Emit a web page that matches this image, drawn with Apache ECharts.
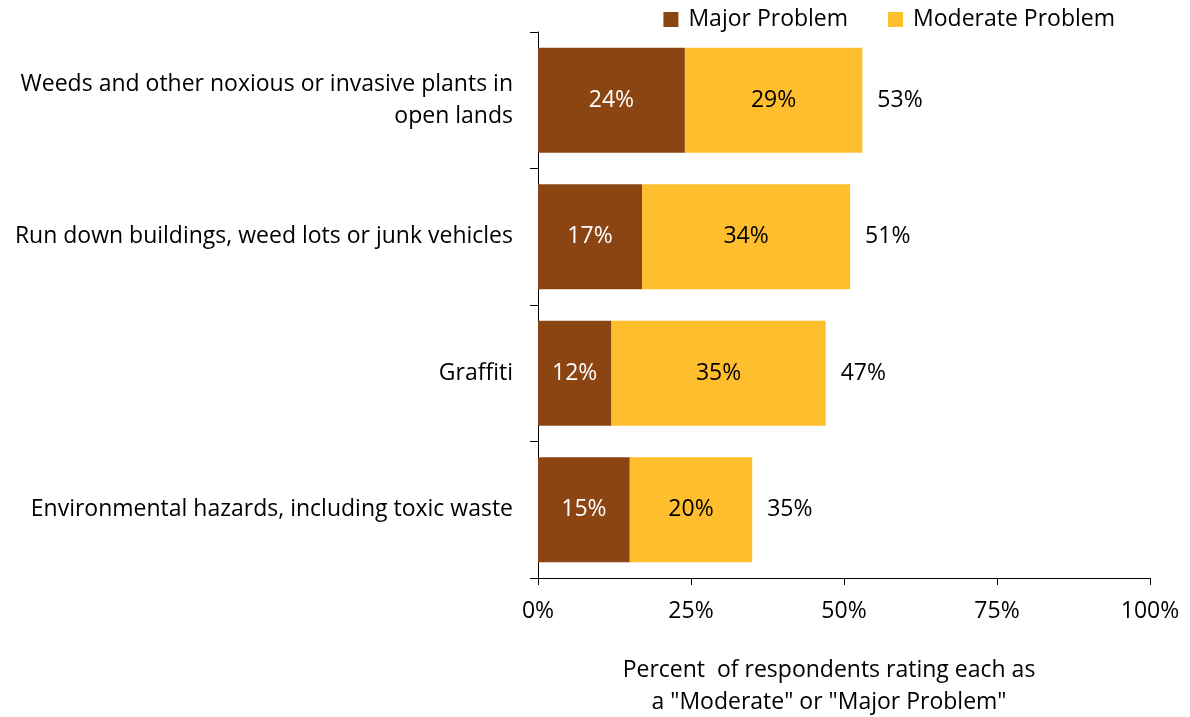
<!DOCTYPE html>
<html><head><meta charset="utf-8">
<script src="https://cdn.jsdelivr.net/npm/echarts@6/dist/echarts.min.js"></script>
<style>html,body{margin:0;padding:0;background:#fff}#c{width:1190px;height:717px}</style>
</head><body><div id="c"></div>
<script>
const categories = [
  "Weeds and other noxious or invasive plants in\nopen lands",
  "Run down buildings, weed lots or junk vehicles",
  "Graffiti",
  "Environmental hazards, including toxic waste"
];
const majorValues = [24, 17, 12, 15];
const moderateValues = [29, 34, 35, 20];
const totalValues = [53, 51, 47, 35];
const xTicks = [0, 25, 50, 75, 100];

const FONT = 'Open Sans';
const FS = 23;
const chart = echarts.init(document.getElementById('c'));
chart.setOption({
  animation: false,
  textStyle: {fontFamily: FONT},
  title: {
    text: 'Percent  of respondents rating each as\na "Moderate" or "Major Problem"',
    left: 824, top: 649, textAlign: 'center',
    textStyle: {fontSize: FS, fontWeight: 'normal', color: '#000', lineHeight: 32, fontFamily: FONT}
  },
  legend: {
    top: 3, right: 70, itemWidth: 15, itemHeight: 15, itemGap: 40,
    icon: 'rect',
    textStyle: {fontSize: FS, color: '#000', fontFamily: FONT, padding: [0, 0, 0, 5]},
    data: ['Major Problem', 'Moderate Problem']
  },
  grid: {left: 538, right: 40, top: 32, bottom: 139},
  xAxis: {
    type: 'value', min: 0, max: 100, interval: 25,
    axisLine: {show: true, lineStyle: {color: '#000'}},
    axisTick: {show: true, length: 7, lineStyle: {color: '#000'}},
    splitLine: {show: false},
    axisLabel: {formatter: v => v + '%', fontSize: FS, color: '#000', margin: 22, fontFamily: FONT}
  },
  yAxis: {
    type: 'category', inverse: true, data: categories,
    axisLine: {show: true, lineStyle: {color: '#000'}},
    axisTick: {show: true, length: 8, lineStyle: {color: '#000'}},
    axisLabel: {fontSize: FS, color: '#000', margin: 25, align: 'right', lineHeight: 32, fontFamily: FONT}
  },
  series: [
    {
      name: 'Major Problem', type: 'bar', stack: 's', barWidth: 105,
      itemStyle: {color: '#8B4513'},
      data: majorValues,
      label: {show: true, position: 'inside', formatter: p => p.value + '%', color: '#fff', fontSize: FS, fontFamily: FONT}
    },
    {
      name: 'Moderate Problem', type: 'bar', stack: 's', barWidth: 105,
      itemStyle: {color: '#FFBE2E'},
      data: moderateValues,
      label: {show: true, position: 'inside', formatter: p => p.value + '%', color: '#000', fontSize: FS, fontFamily: FONT}
    },
    {
      name: 'Total', type: 'scatter', symbolSize: 0, silent: true,
      itemStyle: {opacity: 1},
      data: totalValues.map((v, i) => [v, i]),
      label: {show: true, position: 'right', distance: 15, formatter: p => p.value[0] + '%', color: '#000', fontSize: FS, fontFamily: FONT}
    }
  ]
});
</script>
</body></html>
